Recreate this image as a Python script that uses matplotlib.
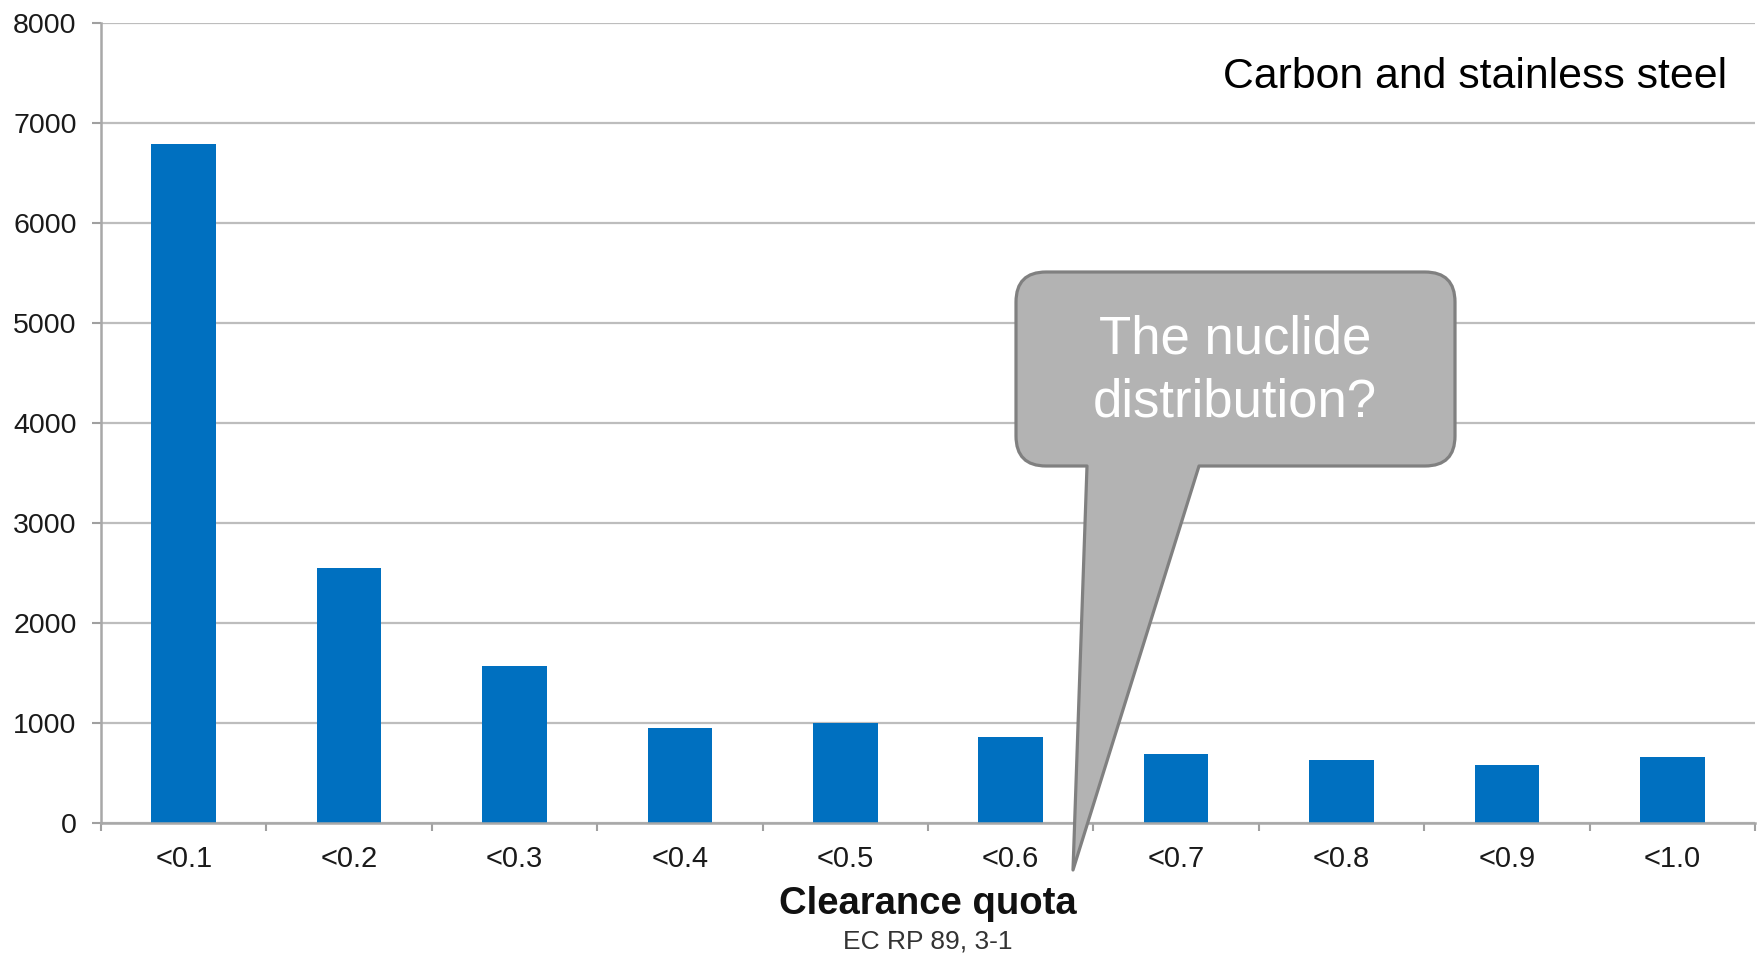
import matplotlib
matplotlib.use("Agg")
import matplotlib.pyplot as plt
from matplotlib.path import Path
from matplotlib.patches import PathPatch

plt.rcParams['font.family'] = ['Liberation Sans', 'DejaVu Sans']

# =========================
# DATA
# =========================

categories = ["<0.1", "<0.2", "<0.3", "<0.4", "<0.5",
              "<0.6", "<0.7", "<0.8", "<0.9", "<1.0"]
counts = [6790, 2550, 1570, 950, 1000, 860, 690, 630, 580, 660]
y_ticks = [0, 1000, 2000, 3000, 4000, 5000, 6000, 7000, 8000]

# =========================
# FIGURE
# =========================

W, H = 1761, 955
fig = plt.figure(figsize=(W / 100, H / 100), dpi=100)
ax = fig.add_axes([101 / W, 1 - 823 / H, (1755 - 101) / W, (823 - 23) / H])

x = range(len(categories))
ax.bar(x, counts, width=0.39, color="#0070C0", zorder=3)

ax.set_xlim(-0.5, len(categories) - 0.5)
ax.set_ylim(0, 8000)

ax.set_yticks(y_ticks)
ax.set_yticklabels([str(v) for v in y_ticks], fontsize=20.5, color="#1a1a1a")
ax.tick_params(axis="y", length=6.5, width=1.5, color="#a0a0a0", pad=11)

ax.set_xticks(list(x))
ax.set_xticklabels(categories, fontsize=21, color="#1a1a1a")
ax.tick_params(axis="x", which="major", length=0, pad=16)
ax.set_xticks([i - 0.5 for i in range(len(categories) + 1)], minor=True)
ax.tick_params(axis="x", which="minor", length=6, width=1.5, color="#a0a0a0")

ax.grid(axis="y", color="#bdbdbd", linewidth=1.6, zorder=0)
ax.set_axisbelow(True)
for side in ["top", "right"]:
    ax.spines[side].set_visible(False)
for side in ["left", "bottom"]:
    ax.spines[side].set_color("#a8a8a8")
    ax.spines[side].set_linewidth(1.8)
ax.spines["bottom"].set_zorder(4)

# title inside plot
fig.text(1727 / W, 1 - 77 / H, "Carbon and stainless steel",
         fontsize=30.8, ha="right", va="center", color="black")

# axis label
fig.text(928 / W, 1 - 904 / H, "Clearance quota",
         fontsize=27.5, fontweight="bold", ha="center", va="center", color="#111111")
fig.text(928 / W, 1 - 941 / H, "EC RP 89, 3-1",
         fontsize=19, ha="center", va="center", color="#333333")

# =========================
# CALLOUT
# =========================

def fp(px, py):
    return (px / W, 1 - py / H)

x0, x1, y0, y1, r = 1016, 1455, 272, 466, 30
tail_l, tail_r, tip = 1087, 1199, (1073, 870)

verts = [fp(x0 + r, y0), fp(x1 - r, y0), fp(x1, y0), fp(x1, y0 + r),
         fp(x1, y1 - r), fp(x1, y1), fp(x1 - r, y1),
         fp(tail_r, y1), fp(*tip), fp(tail_l, y1),
         fp(x0 + r, y1), fp(x0, y1), fp(x0, y1 - r),
         fp(x0, y0 + r), fp(x0, y0), fp(x0 + r, y0), fp(x0 + r, y0)]
codes = [Path.MOVETO, Path.LINETO, Path.CURVE3, Path.CURVE3,
         Path.LINETO, Path.CURVE3, Path.CURVE3,
         Path.LINETO, Path.LINETO, Path.LINETO,
         Path.LINETO, Path.CURVE3, Path.CURVE3,
         Path.LINETO, Path.CURVE3, Path.CURVE3, Path.CLOSEPOLY]

callout = PathPatch(Path(verts, codes), transform=fig.transFigure,
                    facecolor="#b3b3b3", edgecolor="#808080",
                    linewidth=2.3, joinstyle="round", zorder=10)
fig.patches.append(callout)

fig.text(1235 / W, 1 - 371 / H, "The nuclide\ndistribution?",
         fontsize=38, ha="center", va="center", color="white",
         linespacing=1.32, zorder=11)

plt.savefig("out.png", dpi=100)
plt.close()
